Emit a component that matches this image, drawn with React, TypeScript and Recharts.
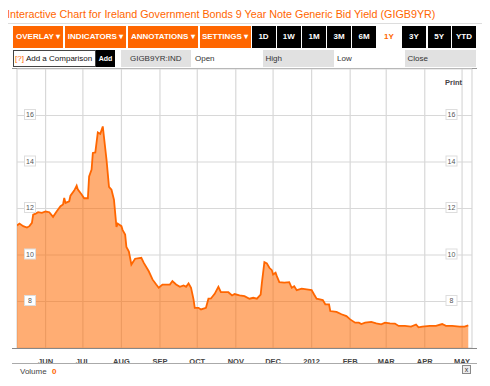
import React from 'react';
import {AreaChart, Area, XAxis, YAxis, CartesianGrid} from 'recharts';

const dates = [
    '2011-05-09', '2011-05-11', '2011-05-14', '2011-05-17', '2011-05-19', '2011-05-21', '2011-05-22', '2011-05-24',
    '2011-05-26', '2011-05-29', '2011-06-01', '2011-06-04', '2011-06-07', '2011-06-10', '2011-06-13', '2011-06-15',
    '2011-06-16', '2011-06-17', '2011-06-20', '2011-06-21', '2011-06-24', '2011-06-26', '2011-06-27', '2011-06-30',
    '2011-07-02', '2011-07-05', '2011-07-06', '2011-07-08', '2011-07-09', '2011-07-11', '2011-07-13', '2011-07-15',
    '2011-07-17', '2011-07-20', '2011-07-22', '2011-07-24', '2011-07-26', '2011-07-28', '2011-07-29', '2011-08-01',
    '2011-08-02', '2011-08-04', '2011-08-05', '2011-08-07', '2011-08-09', '2011-08-12', '2011-08-17', '2011-08-19',
    '2011-08-23', '2011-08-26', '2011-08-29', '2011-08-31', '2011-09-03', '2011-09-09', '2011-09-11', '2011-09-14',
    '2011-09-17', '2011-09-20', '2011-09-22', '2011-09-24', '2011-09-26', '2011-09-28', '2011-09-29', '2011-10-02',
    '2011-10-04', '2011-10-08', '2011-10-10', '2011-10-12', '2011-10-15', '2011-10-18', '2011-10-20', '2011-10-26',
    '2011-10-29', '2011-10-31', '2011-11-04', '2011-11-08', '2011-11-12', '2011-11-15', '2011-11-18', '2011-11-21',
    '2011-11-22', '2011-11-24', '2011-11-26', '2011-11-28', '2011-11-30', '2011-12-01', '2011-12-03', '2011-12-04',
    '2011-12-06', '2011-12-10', '2011-12-14', '2011-12-16', '2011-12-18', '2011-12-20', '2011-12-24', '2011-12-28',
    '2012-01-01', '2012-01-03', '2012-01-05', '2012-01-10', '2012-01-12', '2012-01-15', '2012-01-16', '2012-01-21',
    '2012-01-25', '2012-01-29', '2012-02-01', '2012-02-05', '2012-02-08', '2012-02-10', '2012-02-13', '2012-02-18',
    '2012-02-22', '2012-02-26', '2012-02-29', '2012-03-04', '2012-03-08', '2012-03-11', '2012-03-16', '2012-03-21',
    '2012-03-25', '2012-03-27', '2012-03-30', '2012-04-05', '2012-04-10', '2012-04-15', '2012-04-18', '2012-04-23',
    '2012-04-29', '2012-05-03', '2012-05-06',
];

const yields = [
    11.27, 11.35, 11.24, 11.18, 11.24, 11.38, 11.74, 11.78,
    11.84, 11.81, 11.87, 11.84, 11.64, 11.88, 12.10, 12.17,
    12.45, 12.24, 12.31, 12.55, 12.77, 12.98, 12.81, 12.60,
    12.44, 12.44, 13.38, 13.67, 14.39, 14.41, 15.27, 15.21,
    15.53, 14.10, 12.93, 12.81, 12.38, 11.21, 11.35, 11.24,
    11.07, 10.88, 10.35, 10.15, 9.59, 9.84, 9.88, 9.66,
    9.30, 8.95, 8.73, 8.59, 8.73, 8.73, 8.88, 8.73,
    8.63, 8.69, 8.63, 8.78, 8.59, 8.09, 7.73, 7.73,
    7.66, 7.73, 8.12, 8.13, 8.33, 8.63, 8.40, 8.40,
    8.26, 8.32, 8.26, 8.23, 8.12, 8.16, 8.12, 8.30,
    8.81, 9.69, 9.64, 9.45, 9.35, 9.16, 9.24, 9.09,
    8.83, 8.81, 8.83, 8.59, 8.66, 8.49, 8.55, 8.52,
    8.49, 8.30, 8.12, 8.06, 7.88, 7.88, 7.59, 7.55,
    7.45, 7.37, 7.23, 7.09, 7.09, 7.03, 7.09, 7.12,
    7.06, 7.02, 7.09, 7.06, 7.05, 6.95, 6.95, 6.92,
    7.01, 6.89, 6.92, 6.95, 6.95, 7.03, 6.95, 6.95,
    6.92, 6.92, 6.97,
];

const monthStarts = [
    '2011-06-01', '2011-07-01', '2011-08-01', '2011-09-01', '2011-10-01', '2011-11-01',
    '2011-12-01', '2012-01-01', '2012-02-01', '2012-03-01', '2012-04-01', '2012-05-01',
];
const monthLabels = ['JUN', 'JUL', 'AUG', 'SEP', 'OCT', 'NOV', 'DEC', '2012', 'FEB', 'MAR', 'APR', 'MAY'];
const yTicks = [8, 10, 12, 14, 16];

const toTime = (d: string) => {
    const [y, m, day] = d.split('-').map(Number);
    return Date.UTC(y, m - 1, day);
};

const chartData = dates.map((d, i) => ({t: toTime(d), value: yields[i]}));
const tickTimes = monthStarts.map(toTime);
const xDomain = [toTime('2011-05-09'), toTime('2012-05-09')];

const ORANGE = '#ff6600';
const FONT = 'Arial, "Liberation Sans", sans-serif';

const MonthTick = (props: any) => {
    const {x, y, payload} = props;
    const idx = tickTimes.indexOf(payload.value);
    return (
        <text x={x} y={y + 8} textAnchor='middle' fontSize={7.5} fontWeight='bold' fill='#444' fontFamily={FONT}>
            {monthLabels[idx]}
        </text>
    );
};

const ValueBox = ({cx, cy, label}: {cx: number; cy: number; label: number}) => (
    <g>
        <rect x={cx - 5.5} y={cy - 5} width={11} height={10} fill='#fff' stroke='#ddd' strokeWidth={1} />
        <text x={cx} y={cy + 2.6} textAnchor='middle' fontSize={7} fill='#555' fontFamily={FONT}>
            {label}
        </text>
    </g>
);

// one tick draws the boxed label on both sides of the plot
const YTick = (props: any) => {
    const {y, payload} = props;
    return (
        <g>
            <ValueBox cx={30} cy={y - 1} label={payload.value} />
            <ValueBox cx={451.5} cy={y - 1} label={payload.value} />
        </g>
    );
};

const btn = (left: number, width: number, bg: string, label: string, color = '#fff') => (
    <div
        key={label}
        style={{
            position: 'absolute', left, top: 26, width, height: 22, background: bg, color,
            fontSize: 8, fontWeight: 'bold', lineHeight: '22px', textAlign: 'center', fontFamily: FONT,
            whiteSpace: 'nowrap',
        }}
    >
        {label}
    </div>
);

export default function App() {
    return (
        <div style={{position: 'relative', width: 490, height: 386, margin: -8, background: '#fff', fontFamily: FONT, overflow: 'hidden'}}>
            <div style={{position: 'absolute', left: 7, top: 8.3, fontSize: 10.75, lineHeight: '12px', color: ORANGE, whiteSpace: 'nowrap'}}>
                Interactive Chart for Ireland Government Bonds 9 Year Note Generic Bid Yield (GIGB9YR)
            </div>
            <div style={{position: 'absolute', left: 6, top: 23.3, width: 478, height: 1, background: '#ddd'}} />

            {btn(13, 50, ORANGE, 'OVERLAY \u25BE')}
            {btn(65, 61, ORANGE, 'INDICATORS \u25BE')}
            {btn(127.5, 70.5, ORANGE, 'ANNOTATIONS \u25BE')}
            {btn(199.5, 51, ORANGE, 'SETTINGS \u25BE')}
            {btn(251.5, 24, '#000', '1D')}
            {btn(276.5, 24.5, '#000', '1W')}
            {btn(302, 24, '#000', '1M')}
            {btn(327, 24, '#000', '3M')}
            {btn(352, 24, '#000', '6M')}
            {btn(377, 24, 'transparent', '1Y', ORANGE)}
            {btn(402, 24, '#000', '3Y')}
            {btn(427.5, 23.5, '#000', '5Y')}
            {btn(452, 24, '#000', 'YTD')}

            <div style={{position: 'absolute', left: 13, top: 50, width: 81, height: 15, border: '1px solid #444', fontSize: 8, lineHeight: '15px', whiteSpace: 'nowrap'}}>
                <span style={{color: ORANGE, marginLeft: 1}}>[?]</span>
                <span style={{color: '#111', marginLeft: 2}}>Add a Comparison</span>
            </div>
            <div style={{position: 'absolute', left: 96, top: 50, width: 19, height: 17, background: '#000', color: '#fff', fontSize: 7, fontWeight: 'bold', lineHeight: '17px', textAlign: 'center'}}>
                Add
            </div>
            <div style={{position: 'absolute', left: 120.5, top: 50, width: 70.5, height: 17, background: '#e1e1e1', color: '#333', fontSize: 8, lineHeight: '17px', textAlign: 'center'}}>
                GIGB9YR:IND
            </div>
            <div style={{position: 'absolute', left: 195, top: 50, height: 17, color: '#333', fontSize: 8, lineHeight: '17px'}}>Open</div>
            <div style={{position: 'absolute', left: 262.5, top: 50, width: 71, height: 17, background: '#e1e1e1', color: '#333', fontSize: 8, lineHeight: '17px', paddingLeft: 3, boxSizing: 'border-box'}}>High</div>
            <div style={{position: 'absolute', left: 337, top: 50, height: 17, color: '#333', fontSize: 8, lineHeight: '17px'}}>Low</div>
            <div style={{position: 'absolute', left: 404.5, top: 50, width: 71.5, height: 17, background: '#e1e1e1', color: '#333', fontSize: 8, lineHeight: '17px', paddingLeft: 3, boxSizing: 'border-box'}}>Close</div>

            <div style={{position: 'absolute', left: 12, top: 67.5, width: 465, height: 1.5, background: '#999'}} />

            <div style={{position: 'absolute', left: 0, top: 0}}>
                <AreaChart width={490} height={386} data={chartData} margin={{top: 69, right: 18, bottom: 18, left: 16}}>
                    <CartesianGrid stroke='#d8d8d8' strokeWidth={1.2} />
                    <XAxis
                        dataKey='t'
                        type='number'
                        scale='time'
                        domain={xDomain}
                        ticks={tickTimes}
                        axisLine={false}
                        tickLine={false}
                        tick={<MonthTick />}
                        height={20}
                        interval={0}
                        allowDataOverflow
                    />
                    <YAxis
                        domain={[6, 18]}
                        ticks={yTicks}
                        width={1}
                        axisLine={false}
                        tickLine={false}
                        tick={<YTick />}
                        interval={0}
                        allowDataOverflow
                    />
                    <Area
                        type='linear'
                        dataKey='value'
                        stroke={ORANGE}
                        strokeWidth={1.8}
                        fill='#ff6a00'
                        fillOpacity={0.55}
                        baseValue={6}
                        isAnimationActive={false}
                        dot={false}
                        activeDot={false}
                    />
                </AreaChart>
            </div>

            <div style={{position: 'absolute', left: 445, top: 78, fontSize: 7.5, fontWeight: 'bold', color: '#444'}}>Print</div>

            <div style={{position: 'absolute', left: 12, top: 347.5, width: 465, height: 1.5, background: '#888'}} />
            <div style={{position: 'absolute', left: 12, top: 362.5, width: 465, height: 1.5, background: '#aaa'}} />

            <div style={{position: 'absolute', left: 20, top: 367, fontSize: 8, color: '#444'}}>
                Volume <span style={{color: ORANGE, fontWeight: 'bold', marginLeft: 3}}>0</span>
            </div>
            <div style={{position: 'absolute', left: 462, top: 365, width: 7, height: 7, border: '1px solid #888', background: '#eee', fontSize: 7, lineHeight: '7px', textAlign: 'center', color: '#333'}}>
                x
            </div>

            {/* volume panel: only the month grid lines show */}
            <div style={{position: 'absolute', left: 0, top: 378}}>
                <AreaChart width={490} height={8} data={chartData} margin={{top: 0, right: 18, bottom: 0, left: 17}}>
                    <CartesianGrid stroke='#d8d8d8' strokeWidth={1.2} horizontal={false} />
                    <XAxis dataKey='t' type='number' scale='time' domain={xDomain} ticks={tickTimes} hide allowDataOverflow />
                    <YAxis hide domain={[0, 20]} />
                    <Area dataKey='value' stroke='none' fill='none' isAnimationActive={false} dot={false} activeDot={false} />
                </AreaChart>
            </div>
        </div>
    );
}
